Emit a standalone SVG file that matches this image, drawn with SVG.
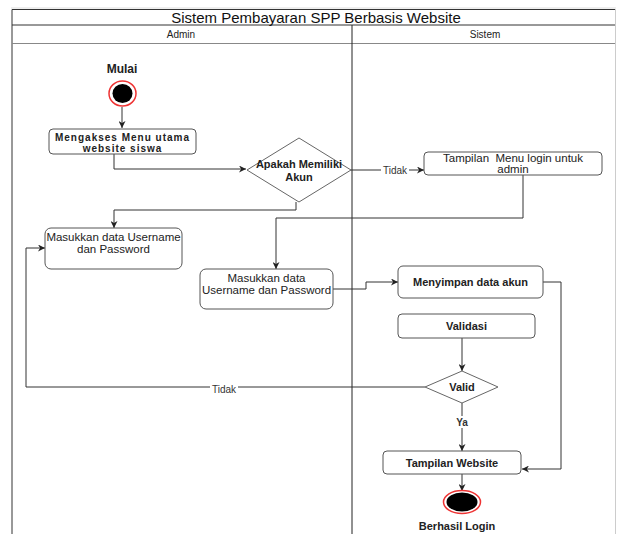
<svg xmlns="http://www.w3.org/2000/svg" width="617" height="534" viewBox="0 0 617 534">
<defs>
<marker id="arr" viewBox="0 0 10 10" refX="10" refY="5" markerWidth="7" markerHeight="7" orient="auto" markerUnits="userSpaceOnUse">
<path d="M0,0 L10,5 L0,10 L3,5 Z" fill="#222"/>
</marker>
</defs>
<style>
text{font-family:"Liberation Sans",Arial,sans-serif;fill:#222;dominant-baseline:central;text-anchor:middle}
.b{font-weight:bold;font-size:11px}
.r{font-size:11.5px}
.box{fill:#fff;stroke:#555;stroke-width:1}
.dia{fill:#fff;stroke:#666;stroke-width:1}
.c{fill:none;stroke:#333;stroke-width:1}
.lbl{font-size:10px;fill:#333}
.lb{fill:#fff}
</style>
<rect width="617" height="534" fill="#fff"/>
<g id="frame">
<path d="M11,8 H616" stroke="#ddd" fill="none"/>
<path d="M12,534 V9.5 H615" stroke="#333" fill="none"/>
<path d="M12,25 H615" stroke="#333" fill="none"/>
<path d="M12,43.5 H615" stroke="#888" fill="none"/>
<path d="M352,25 V534" stroke="#222" fill="none"/>
<path d="M615.5,9 V534" stroke="#ccc" fill="none"/>
<text x="316" y="17" style="font-size:15px;fill:#111">Sistem Pembayaran SPP Berbasis Website</text>
<text x="181" y="34.5" style="font-size:10px">Admin</text>
<text x="485" y="34.5" style="font-size:10px">Sistem</text>
</g>
<g id="connectors">
<path class="c" d="M122,107 V128" marker-end="url(#arr)"/>
<path class="c" d="M114,154 V169 H246" marker-end="url(#arr)"/>
<path class="c" d="M351,170 H424" marker-end="url(#arr)"/>
<path class="c" d="M296,202 V210 H114 V228" marker-end="url(#arr)"/>
<path class="c" d="M523,175 V218 H276 V269" marker-end="url(#arr)"/>
<path class="c" d="M333,289 H366 V282 H398" marker-end="url(#arr)"/>
<path class="c" d="M543,282 H561 V469 H522" marker-end="url(#arr)"/>
<path class="c" d="M462,338 V371" marker-end="url(#arr)"/>
<path class="c" d="M425,387 H26 V248 H45" marker-end="url(#arr)"/>
<path class="c" d="M462,403 V451" marker-end="url(#arr)"/>
<path class="c" d="M462,474 V491" marker-end="url(#arr)"/>
<rect class="lb" x="381" y="164" width="28" height="12"/>
<text class="lbl" x="395" y="170">Tidak</text>
<rect class="lb" x="210" y="382" width="28" height="12"/>
<text class="lbl" x="224" y="389">Tidak</text>
<rect class="lb" x="454" y="416" width="16" height="12"/>
<text class="lbl" x="462" y="422" style="font-weight:bold">Ya</text>
</g>
<g id="start">
<text class="b" x="122" y="69" style="font-size:12px">Mulai</text>
<ellipse cx="122.5" cy="93.5" rx="13.5" ry="12.5" fill="#fff" stroke="#e33" stroke-width="1.5"/>
<ellipse cx="122.5" cy="93.5" rx="10" ry="9.5" fill="#000"/>
</g>
<g id="mengakses">
<rect class="box" x="49" y="129" width="147" height="25" rx="4"/>
<text class="b" x="122.5" y="137" style="font-size:10px;letter-spacing:1px">Mengakses Menu utama</text>
<text class="b" x="122.5" y="148" style="font-size:10px;letter-spacing:1px">website siswa</text>
</g>
<g id="apakah">
<polygon class="dia" points="299,138 351,170 299,202 247,170"/>
<text class="b" x="299" y="164">Apakah Memiliki</text>
<text class="b" x="299" y="177">Akun</text>
</g>
<g id="tampilan-login">
<rect class="box" x="424" y="152" width="178" height="23" rx="4"/>
<text class="r" x="513" y="157.5" xml:space="preserve">Tampilan  Menu login untuk</text>
<text class="r" x="513" y="169">admin</text>
</g>
<g id="masukkan1">
<rect class="box" x="45" y="228" width="137" height="41" rx="6"/>
<text class="r" x="113.5" y="237">Masukkan data Username</text>
<text class="r" x="113.5" y="248.5">dan Password</text>
</g>
<g id="masukkan2">
<rect class="box" x="200" y="269" width="133" height="40" rx="6"/>
<text class="r" x="266.5" y="277.5">Masukkan data</text>
<text class="r" x="266.5" y="289.5">Username dan Password</text>
</g>
<g id="menyimpan">
<rect class="box" x="398" y="266" width="145" height="32" rx="5"/>
<text class="b" x="470.5" y="282">Menyimpan data akun</text>
</g>
<g id="validasi">
<rect class="box" x="398" y="314" width="137" height="24" rx="4"/>
<text class="b" x="466.5" y="326">Validasi</text>
</g>
<g id="valid">
<polygon class="dia" points="462,371 498,387 462,403 425,387"/>
<text class="b" x="462" y="387">Valid</text>
</g>
<g id="tampilan-website">
<rect class="box" x="383" y="451" width="138" height="23" rx="4"/>
<text class="b" x="452" y="463">Tampilan Website</text>
</g>
<g id="end">
<ellipse cx="462" cy="502" rx="18.5" ry="11.5" fill="#fff" stroke="#e33" stroke-width="1.5"/>
<ellipse cx="462" cy="502" rx="15.5" ry="9.5" fill="#000"/>
<text class="b" x="457" y="526">Berhasil Login</text>
</g>
</svg>
